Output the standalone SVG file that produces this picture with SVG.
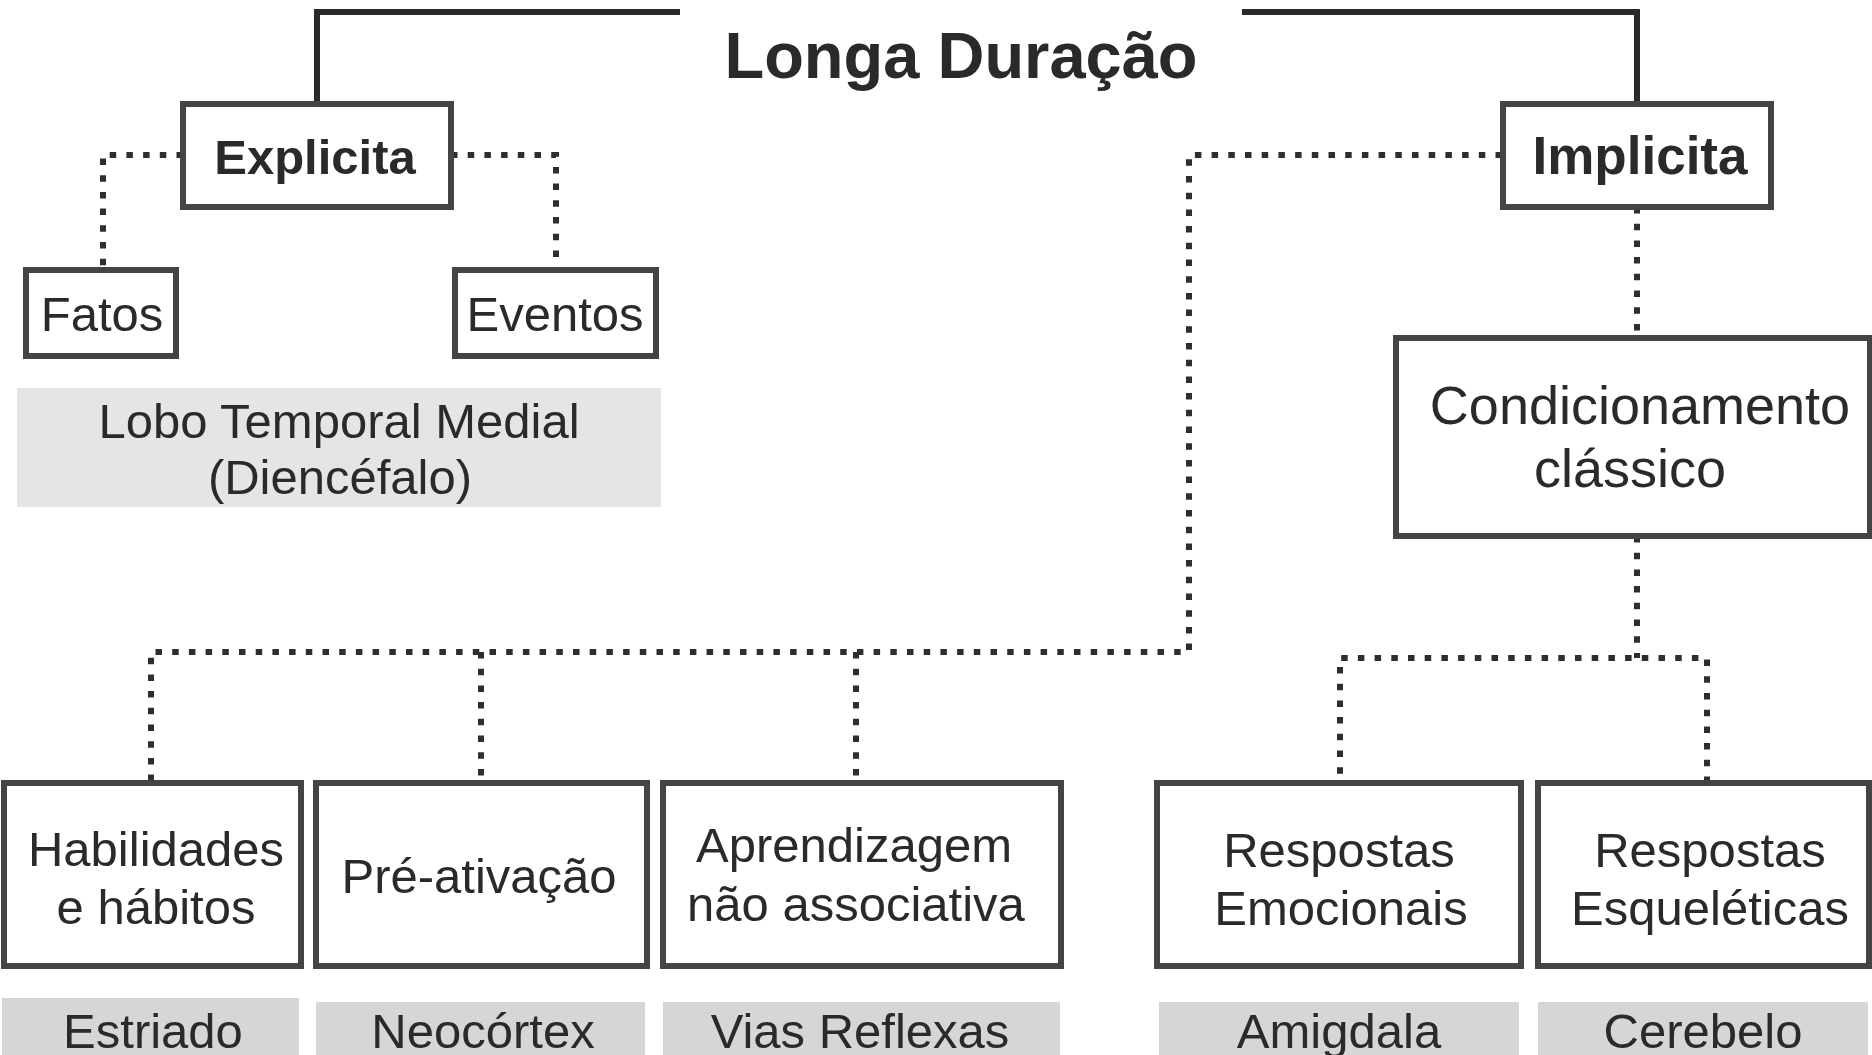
<svg xmlns="http://www.w3.org/2000/svg" width="1872" height="1055" viewBox="0 0 1872 1055">
<style>
.box{fill:#fff;stroke:#444;stroke-width:6}
.lbl{stroke:none}
.solid{fill:none;stroke:#2a2a2a;stroke-width:6}
.dot{fill:none;stroke:#2e2e2e;stroke-width:6;stroke-dasharray:6.5 10.2}
text{font-family:"Liberation Sans",Arial,sans-serif;text-anchor:middle;fill:#2a2a2a}
.t{font-size:49px}
.b{font-weight:bold}
</style>
<rect width="1872" height="1055" fill="#fff"/>
<g id="connectors">
<path class="solid" d="M317,104 V12 H680"/>
<path class="solid" d="M1242,12 H1637 V104"/>
<path class="dot" d="M183,155 H103 V270"/>
<path class="dot" d="M451,155 H556 V270"/>
<path class="dot" d="M1502,155 H1189 V652 H151 V783"/>
<path class="dot" d="M481,652 V783"/>
<path class="dot" d="M856,652 V783"/>
<path class="dot" d="M1637,207 V338"/>
<path class="dot" d="M1637,536 V658"/>
<path class="dot" d="M1707,783 V658 H1340 V783"/>
</g>
<g id="title"><text class="b" x="961" y="78" font-size="65" fill="#1e1e1e">Longa Duração</text></g>
<g id="explicita"><rect class="box" x="183" y="104" width="268" height="103"/><text class="b" x="315" y="174" font-size="49">Explicita</text></g>
<g id="fatos"><rect class="box" x="26" y="270" width="150" height="86"/><text class="t" x="102" y="331">Fatos</text></g>
<g id="eventos"><rect class="box" x="455" y="270" width="201" height="86"/><text class="t" x="555" y="331">Eventos</text></g>
<g id="lobo"><rect class="lbl" x="17" y="388" width="644" height="119" fill="#e5e5e5"/><text class="t" x="339" y="438">Lobo Temporal Medial</text><text class="t" x="340" y="494">(Diencéfalo)</text></g>
<g id="implicita"><rect class="box" x="1503" y="104" width="268" height="103"/><text class="b" x="1640" y="174" font-size="53">Implicita</text></g>
<g id="condicionamento"><rect class="box" x="1396" y="338" width="474" height="198"/><text x="1640" y="424" font-size="54">Condicionamento</text><text x="1630" y="487" font-size="54">clássico</text></g>
<g id="habilidades"><rect class="box" x="4" y="783" width="297" height="183"/><text class="t" x="156" y="866">Habilidades</text><text class="t" x="156" y="924">e hábitos</text></g>
<g id="preativacao"><rect class="box" x="316" y="783" width="331" height="183"/><text class="t" x="479" y="893">Pré-ativação</text></g>
<g id="aprendizagem"><rect class="box" x="663" y="783" width="398" height="183"/><text class="t" x="854" y="862">Aprendizagem</text><text class="t" x="856" y="921">não associativa</text></g>
<g id="emocionais"><rect class="box" x="1157" y="783" width="364" height="183"/><text class="t" x="1339" y="867">Respostas</text><text class="t" x="1341" y="925">Emocionais</text></g>
<g id="esqueleticas"><rect class="box" x="1538" y="783" width="331" height="183"/><text class="t" x="1710" y="867">Respostas</text><text class="t" x="1710" y="925">Esqueléticas</text></g>
<g id="estriado"><rect class="lbl" x="2" y="998" width="297" height="60" fill="#d6d6d6"/><text class="t" x="153" y="1048" fill="#222">Estriado</text></g>
<g id="neocortex"><rect class="lbl" x="316" y="1002" width="329" height="56" fill="#d6d6d6"/><text class="t" x="483" y="1048" fill="#222">Neocórtex</text></g>
<g id="vias"><rect class="lbl" x="663" y="1002" width="397" height="56" fill="#d6d6d6"/><text class="t" x="860" y="1048" fill="#222">Vias Reflexas</text></g>
<g id="amigdala"><rect class="lbl" x="1159" y="1002" width="360" height="56" fill="#d6d6d6"/><text class="t" x="1339" y="1048" fill="#222">Amigdala</text></g>
<g id="cerebelo"><rect class="lbl" x="1538" y="1002" width="330" height="56" fill="#d6d6d6"/><text class="t" x="1703" y="1048" fill="#222">Cerebelo</text></g>
</svg>
